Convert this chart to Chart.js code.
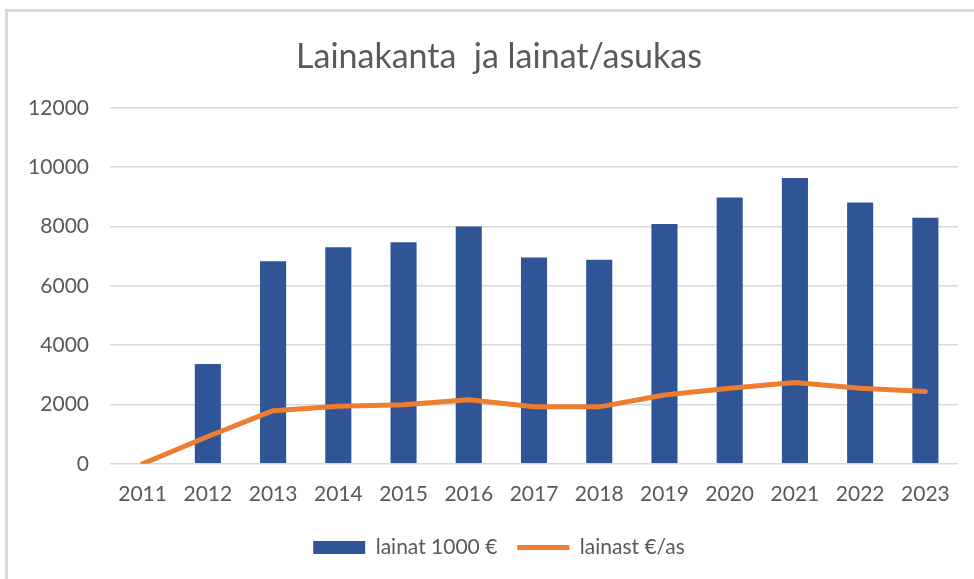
<!DOCTYPE html>
<html>
<head>
<meta charset="utf-8">
<script src="https://cdn.jsdelivr.net/npm/chart.js@4"></script>
<style>
	body { margin: 0; background: #fff; }
	#wrap { position: relative; width: 974px; height: 579px; }
	#frame { position: absolute; left: 5px; top: 9px; right: 0; bottom: 0; border-left: 3px solid #d9d9d9; border-top: 3px solid #d9d9d9; }
	canvas { position: absolute; left: 0; top: 0; }
</style>
</head>
<body>
<div id="wrap">
	<div id="frame"></div>
	<canvas id="lainaChart" width="974" height="579"></canvas>
</div>
<script>
// vuodet
var years = ['2011', '2012', '2013', '2014', '2015', '2016', '2017', '2018', '2019', '2020', '2021', '2022', '2023'];
// lainat 1000 €
var lainat = [0, 3360, 6830, 7300, 7470, 8000, 6950, 6880, 8080, 8980, 9630, 8810, 8290];
// lainat €/asukas
var lainatAs = [0, 920, 1790, 1940, 1990, 2160, 1920, 1920, 2320, 2550, 2740, 2550, 2440];
var yTicks = [0, 2000, 4000, 6000, 8000, 10000, 12000];

var fontName = 'Lato';
var textColor = '#595959';

const ctx = document.getElementById('lainaChart').getContext('2d');
const myChart = new Chart(ctx, {
	data: {
		labels: years,
		datasets: [{
			type: 'line',
			label: 'lainast €/as',
			data: lainatAs,
			borderColor: '#ed7d31',
			backgroundColor: '#ed7d31',
			borderWidth: 5,
			borderCapStyle: 'round',
			borderJoinStyle: 'round',
			pointRadius: 0,
			pointStyle: 'line',
			tension: 0,
			order: 1
		}, {
			type: 'bar',
			label: 'lainat 1000 €',
			data: lainat,
			backgroundColor: '#2f5597',
			borderWidth: 0,
			pointStyle: 'rect',
			barPercentage: 0.8,
			categoryPercentage: 0.5,
			order: 2
		}]
	},
	options: {
		responsive: false,
		animation: false,
		layout: {
			// negative right padding moves title/legend centre to the right, the empty y2 axis takes it back
			padding: { left: 10, right: -14, top: 20, bottom: 11 }
		},
		plugins: {
			title: {
				display: true,
				text: 'Lainakanta  ja lainat/asukas',
				color: textColor,
				font: { family: fontName, size: 34, weight: 'normal' },
				padding: { top: 17, bottom: 30 }
			},
			legend: {
				position: 'bottom',
				reverse: true,
				labels: {
					color: textColor,
					font: { family: fontName, size: 21 },
					usePointStyle: true,
					pointStyleWidth: 52,
					boxHeight: 13,
					padding: 20
				}
			},
			tooltip: { enabled: false }
		},
		scales: {
			x: {
				grid: { display: false },
				border: { display: false },
				ticks: {
					color: textColor,
					font: { family: fontName, size: 21 },
					padding: 10,
					maxRotation: 0
				}
			},
			y: {
				min: 0,
				max: 12000,
				afterFit: function(scale) { scale.width = 100; },
				afterBuildTicks: function(scale) {
					scale.ticks = yTicks.map(function(v) { return { value: v }; });
				},
				grid: { color: '#d9d9d9', lineWidth: 1.5, drawTicks: false },
				border: { display: false },
				ticks: {
					color: textColor,
					font: { family: fontName, size: 21 },
					padding: 21,
					callback: function(value) { return String(value); }
				}
			},
			y2: {
				position: 'right',
				afterFit: function(scale) { scale.width = 30; },
				grid: { display: false },
				border: { display: false },
				ticks: { display: false }
			}
		}
	}
});
</script>
</body>
</html>
